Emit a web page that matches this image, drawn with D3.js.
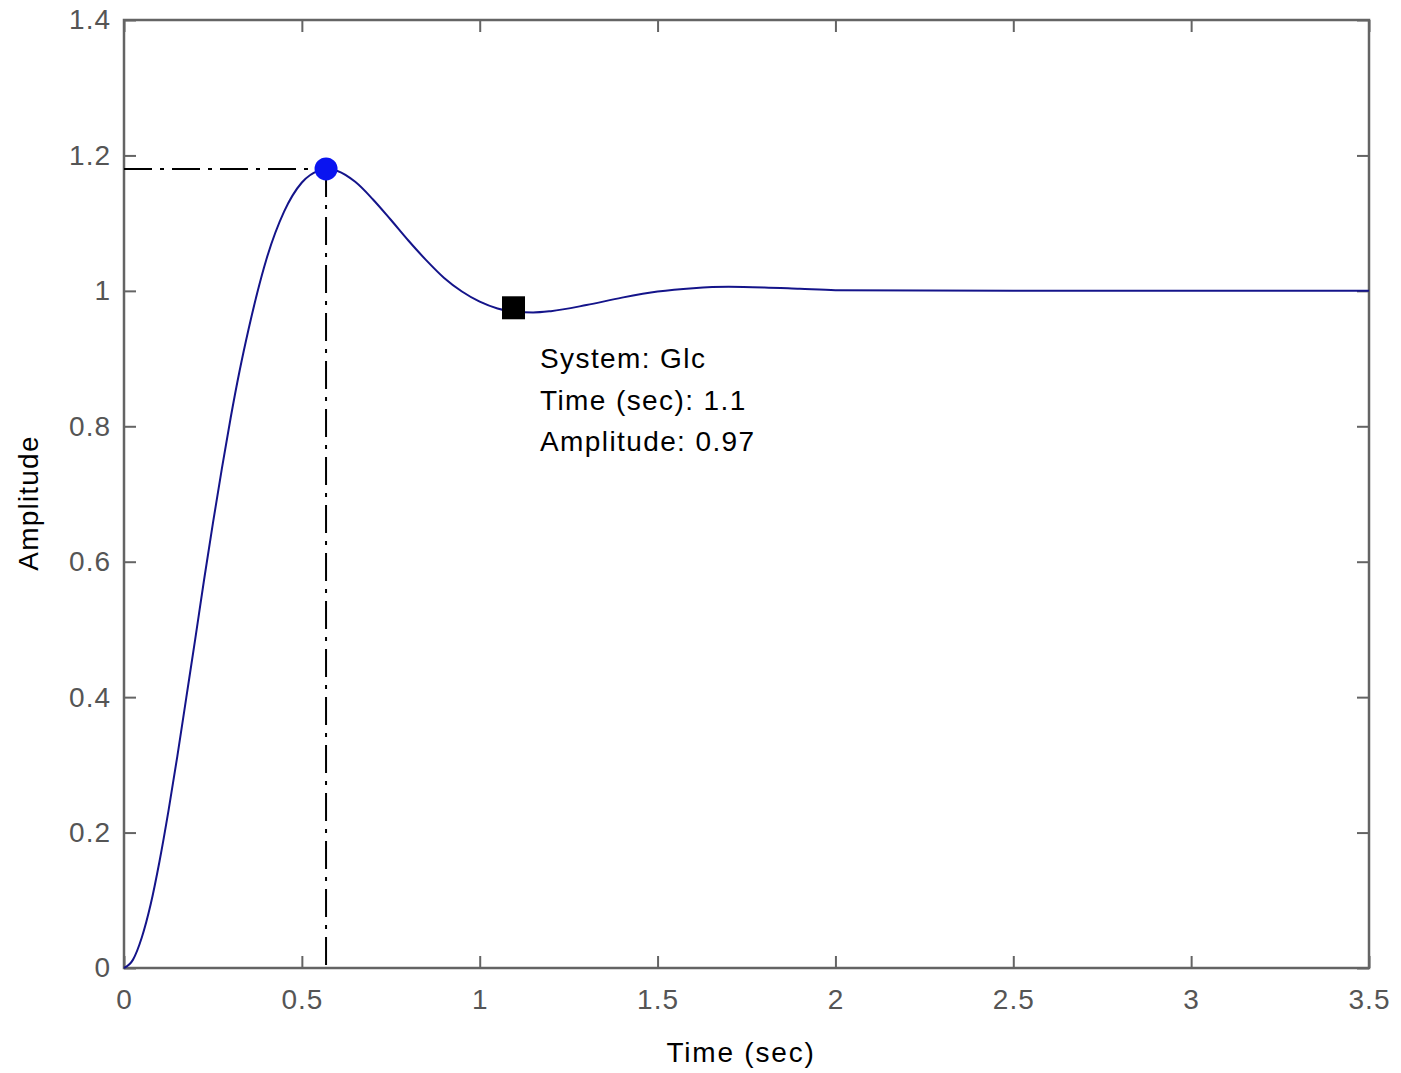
<!DOCTYPE html>
<html>
<head>
<meta charset="utf-8">
<script src="https://cdn.jsdelivr.net/npm/d3@7"></script>
<style>
  html, body { margin: 0; padding: 0; background: #ffffff; }
  svg { display: block; }
  text { font-family: "Liberation Sans", Arial, sans-serif; }
</style>
</head>
<body>
<svg id="chart" width="1401" height="1073"></svg>
<script>
// ---- data ----
const timeSec = [0, 0.025, 0.05, 0.075, 0.1, 0.125, 0.15, 0.175, 0.2, 0.225, 0.25, 0.275, 0.3, 0.325, 0.35, 0.375, 0.4, 0.45, 0.5, 0.55, 0.57, 0.6, 0.65, 0.7, 0.75, 0.8, 0.85, 0.9, 0.95, 1.0, 1.05, 1.1, 1.15, 1.2, 1.3, 1.4, 1.5, 1.6, 1.7, 1.8, 1.9, 2.0, 2.5, 3.0, 3.5];
const amplitude = [0, 0.012, 0.045, 0.094, 0.158, 0.232, 0.313, 0.399, 0.485, 0.573, 0.657, 0.737, 0.813, 0.882, 0.943, 0.998, 1.046, 1.117, 1.160, 1.178, 1.180, 1.177, 1.161, 1.135, 1.105, 1.074, 1.045, 1.019, 0.999, 0.984, 0.974, 0.969, 0.968, 0.970, 0.979, 0.990, 0.999, 1.004, 1.006, 1.005, 1.003, 1.001, 1.000, 1.000, 1.000];
const xTicks = [0, 0.5, 1, 1.5, 2, 2.5, 3, 3.5];
const xTickLabels = ["0", "0.5", "1", "1.5", "2", "2.5", "3", "3.5"];
const yTicks = [0, 0.2, 0.4, 0.6, 0.8, 1, 1.2, 1.4];
const yTickLabels = ["0", "0.2", "0.4", "0.6", "0.8", "1", "1.2", "1.4"];
const peakPoint = [0.568, 1.18];
const dataTipPoint = [1.095, 0.975];
const dataTipLines = ["System: Glc", "Time (sec): 1.1", "Amplitude: 0.97"];
const xAxisLabel = "Time (sec)";
const yAxisLabel = "Amplitude";

(function () {
// ---- layout ----
const svg = d3.select("#chart");
const pLeft = 124, pRight = 1369, pTop = 20, pBottom = 968;
const x = d3.scaleLinear().domain([0, 3.5]).range([pLeft, pRight]);
const y = d3.scaleLinear().domain([0, 1.4]).range([pBottom, pTop]);
const axisColor = "#646464";
const labelColor = "#555555";
const tickLen = 12;

// ticks inward on all four sides
const gB = svg.append("g").attr("transform", `translate(0,${pBottom})`)
  .call(d3.axisBottom(x).tickValues(xTicks).tickSizeInner(-tickLen).tickSizeOuter(0).tickPadding(16)
        .tickFormat((d, i) => xTickLabels[i]));
const gT = svg.append("g").attr("transform", `translate(0,${pTop})`)
  .call(d3.axisTop(x).tickValues(xTicks).tickSizeInner(-tickLen).tickSizeOuter(0).tickFormat(""));
const gL = svg.append("g").attr("transform", `translate(${pLeft},0)`)
  .call(d3.axisLeft(y).tickValues(yTicks).tickSizeInner(-tickLen).tickSizeOuter(0).tickPadding(13)
        .tickFormat((d, i) => yTickLabels[i]));
const gR = svg.append("g").attr("transform", `translate(${pRight},0)`)
  .call(d3.axisRight(y).tickValues(yTicks).tickSizeInner(-tickLen).tickSizeOuter(0).tickFormat(""));

[gB, gT, gL, gR].forEach(g => {
  g.select(".domain").remove();
  g.selectAll(".tick line").attr("stroke", axisColor).attr("stroke-width", 2);
  g.selectAll(".tick text").attr("fill", labelColor).attr("font-size", 28)
    .attr("font-family", "'Liberation Sans', Arial, sans-serif").style("letter-spacing", "1px");
});
gB.selectAll(".tick text").attr("dy", "0.9em");

// axes box
svg.append("rect").attr("x", pLeft).attr("y", pTop).attr("width", pRight - pLeft).attr("height", pBottom - pTop)
  .attr("fill", "none").attr("stroke", axisColor).attr("stroke-width", 2.5);

// dash-dot guides to the peak
const guides = svg.append("g").attr("stroke", "#000").attr("stroke-width", 2).attr("stroke-dasharray", "28,8,4,8");
guides.append("line").attr("x1", x(0)).attr("y1", y(peakPoint[1])).attr("x2", x(peakPoint[0])).attr("y2", y(peakPoint[1]));
guides.append("line").attr("x1", x(peakPoint[0])).attr("y1", y(peakPoint[1])).attr("x2", x(peakPoint[0])).attr("y2", y(0));

// response curve
const line = d3.line().x((d, i) => x(timeSec[i])).y(d => y(d)).curve(d3.curveMonotoneX);
svg.append("path").datum(amplitude).attr("d", line)
  .attr("fill", "none").attr("stroke", "#14148a").attr("stroke-width", 2);

// markers
svg.append("circle").attr("cx", x(peakPoint[0])).attr("cy", y(peakPoint[1])).attr("r", 11.5).attr("fill", "#0a14f0");
svg.append("rect").attr("x", x(dataTipPoint[0]) - 11.5).attr("y", y(dataTipPoint[1]) - 11.5)
  .attr("width", 23).attr("height", 23).attr("fill", "#000");

// data tip text
const tip = svg.append("text").attr("x", 540).attr("y", 368).attr("font-size", 28).attr("fill", "#000")
  .style("letter-spacing", "1.4px");
dataTipLines.forEach((t, i) => tip.append("tspan").attr("x", 540).attr("dy", i === 0 ? 0 : 41.5).text(t));

// axis labels
svg.append("text").attr("x", 741).attr("y", 1062).attr("text-anchor", "middle")
  .attr("font-size", 28).attr("fill", "#000").style("letter-spacing", "1.8px").text(xAxisLabel);
svg.append("text").attr("transform", "translate(38,503) rotate(-90)").attr("text-anchor", "middle")
  .attr("font-size", 28).attr("fill", "#000").style("letter-spacing", "1.2px").text(yAxisLabel);
})();
</script>
</body>
</html>
